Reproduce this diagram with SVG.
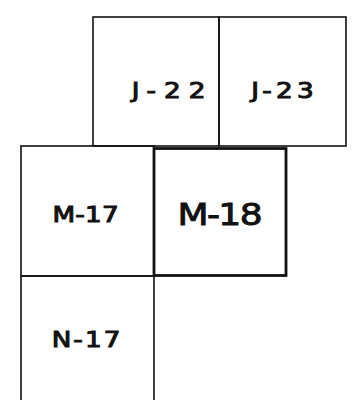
<svg xmlns="http://www.w3.org/2000/svg" width="352" height="400" viewBox="0 0 352 400">
<style>
.cell{fill:none;stroke:#111;stroke-width:1.6}
.bold{fill:none;stroke:#111;stroke-width:2.8}
.lab{font-family:"DejaVu Sans",sans-serif;font-size:21px;fill:#111;stroke:#111;stroke-width:1;text-anchor:middle}
.big{font-family:"DejaVu Sans",sans-serif;font-size:30px;fill:#111;stroke:#111;stroke-width:0.9;text-anchor:middle}
</style>
<rect width="352" height="400" fill="#fff"/>
<g id="J-22">
<rect class="cell" x="93" y="17" width="126" height="129"/>
<text class="lab" transform="translate(168.5 97.5) scale(1.25 1)" textLength="59" lengthAdjust="spacing">J-22</text>
</g>
<g id="J-23">
<rect class="cell" x="219" y="17" width="127" height="129"/>
<text class="lab" transform="translate(282.5 97.5) scale(1.25 1)" textLength="50" lengthAdjust="spacing">J-23</text>
</g>
<g id="M-17">
<rect class="cell" x="21" y="146" width="133" height="130"/>
<text class="lab" transform="translate(85.5 222) scale(1.25 1)" textLength="53" lengthAdjust="spacing">M-17</text>
</g>
<g id="M-18">
<rect class="bold" x="154" y="148.5" width="132" height="127"/>
<text class="big" transform="translate(220 225) scale(1.2 1)" textLength="71" lengthAdjust="spacing">M-18</text>
</g>
<g id="N-17">
<path class="cell" d="M21 276 V400 M154 276 V400 M21 276 H154"/>
<text class="lab" transform="translate(86 347) scale(1.25 1)" textLength="55" lengthAdjust="spacing">N-17</text>
</g>
<g id="connectors"></g>
</svg>
